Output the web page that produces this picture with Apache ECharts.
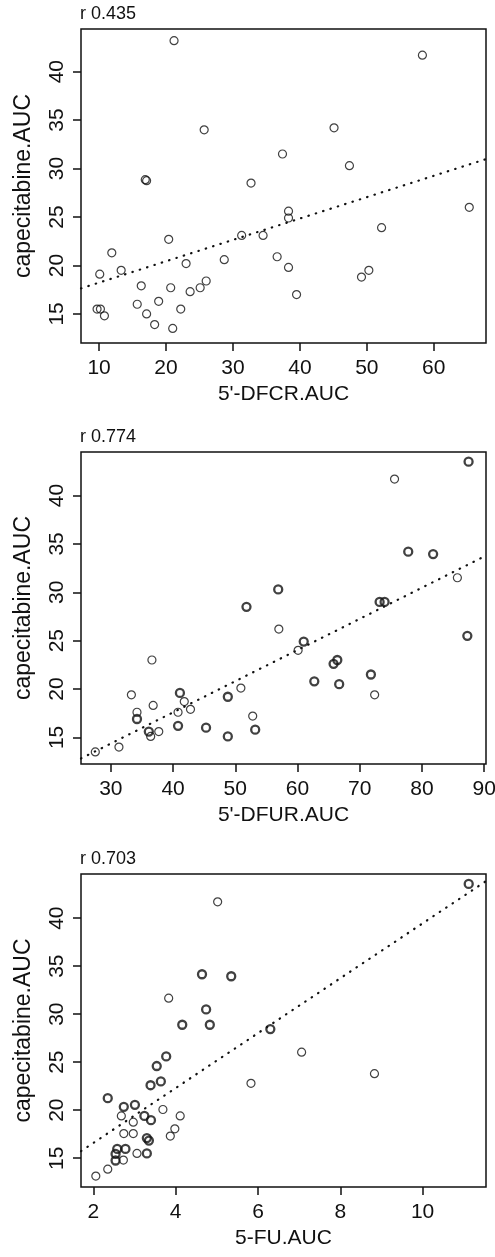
<!DOCTYPE html>
<html>
<head>
<meta charset="utf-8">
<script src="https://cdn.jsdelivr.net/npm/echarts@6/dist/echarts.min.js"></script>
<style>
html, body { margin: 0; padding: 0; background: #fff; }
#main { width: 495px; height: 1257px; }
</style>
</head>
<body>
<div id="main"></div>
<script>
// capecitabine AUC (y) against three metabolite AUCs (x), [x, y] pairs
var dfcrThin = [
    [21.2,43.2],[25.7,34.0],[16.9,28.85],[17.1,28.75],[32.7,28.5],[58.3,41.7],[45.1,34.2],[37.4,31.5],[47.4,30.3],
    [9.7,15.5],[10.2,15.5],[10.8,14.8],[10.1,19.1],[11.9,21.3],[13.3,19.5],[16.3,17.9],[15.7,16.0],[17.1,15.0],
    [18.3,13.9],[18.9,16.3],[20.4,22.7],[20.7,17.7],[21.0,13.5],[22.2,15.5],[23.0,20.2],[23.6,17.3],[25.1,17.7],
    [26.0,18.4],[28.7,20.6],[31.3,23.1],[34.5,23.1],[38.3,25.6],[38.3,24.9],[36.6,20.9],[38.3,19.8],[39.5,17.0],
    [52.2,23.9],[49.2,18.8],[50.3,19.5],[65.3,26.0]
];
var dfcrBold = [];

var dfurThin = [
    [75.6,41.7],[85.7,31.5],[27.5,13.5],[31.3,14.0],[33.3,19.4],[34.2,17.6],[36.6,23.0],[36.8,18.3],[36.4,15.1],
    [37.7,15.6],[40.8,17.6],[41.8,18.7],[42.8,17.9],[50.9,20.1],[57.0,26.2],[60.1,24.0],[72.4,19.4],[52.8,17.2]
];
var dfurBold = [
    [87.5,43.5],[77.8,34.2],[81.8,33.95],[56.9,30.3],[51.8,28.5],[73.2,29.0],[74.0,29.0],[34.2,16.9],[36.1,15.6],
    [41.1,19.6],[40.8,16.2],[45.3,16.0],[48.8,19.2],[48.8,15.1],[61.0,24.9],[65.8,22.6],[66.4,23.0],[62.7,20.8],
    [66.7,20.5],[71.8,21.5],[53.2,15.8],[87.3,25.5]
];

var fuThin = [
    [5.02,41.7],[3.83,31.67],[7.06,26.04],[5.83,22.8],[8.83,23.8],[3.69,20.07],[4.11,19.4],[2.68,19.4],[2.97,18.75],
    [3.98,18.06],[2.74,17.56],[2.97,17.56],[3.87,17.3],[3.06,15.5],[2.73,14.8],[2.35,13.86],[2.06,13.14]
];
var fuBold = [
    [4.64,34.16],[5.35,33.95],[4.74,30.5],[4.16,28.9],[4.83,28.9],[11.12,43.57],[6.30,28.45],[3.77,25.6],[3.54,24.6],
    [3.64,23.0],[3.39,22.6],[2.35,21.25],[2.74,20.35],[3.01,20.56],[3.24,19.4],[3.40,18.96],[3.30,17.1],[3.35,16.84],
    [2.58,15.97],[2.78,15.97],[2.54,15.45],[3.30,15.5],[2.54,14.76]
];

var rLabels = ['r 0.435', 'r 0.774', 'r 0.703'];
var xNames = ["5'-DFCR.AUC", "5'-DFUR.AUC", '5-FU.AUC'];
var yName = 'capecitabine.AUC';
var xTicks = [[10,20,30,40,50,60], [30,40,50,60,70,80,90], [2,4,6,8,10]];
var yTicks = [15,20,25,30,35,40];

var panels = [
    { thin: dfcrThin, bold: dfcrBold, xMin: 7.3, xMax: 67.8, yMin: 12.0, yMax: 44.4, top: 29, height: 314 },
    { thin: dfurThin, bold: dfurBold, xMin: 25.2, xMax: 90.3, yMin: 12.25, yMax: 44.5, top: 452, height: 312 },
    { thin: fuThin, bold: fuBold, xMin: 1.7, xMax: 11.54, yMin: 12.0, yMax: 44.6, top: 874, height: 313 }
];

function fitLine(pts, x0, x1) {
    var n = pts.length, sx = 0, sy = 0, sxx = 0, sxy = 0;
    pts.forEach(function (p) { sx += p[0]; sy += p[1]; sxx += p[0] * p[0]; sxy += p[0] * p[1]; });
    var b = (n * sxy - sx * sy) / (n * sxx - sx * sx);
    var a = (sy - b * sx) / n;
    return [[x0, a + b * x0], [x1, a + b * x1]];
}

var ink = '#111';
var font = 'Liberation Sans, Arial, sans-serif';
var grids = [], xAxes = [], yAxes = [], series = [], titles = [];

panels.forEach(function (p, i) {
    grids.push({
        left: 81, top: p.top, width: 405, height: p.height,
        show: true, borderColor: ink, borderWidth: 1.5, backgroundColor: 'transparent',
        containLabel: false, outerBoundsMode: 'none'
    });
    titles.push({
        text: rLabels[i], left: 80, top: p.top - 24, padding: 0,
        textStyle: { fontSize: 18, fontWeight: 'normal', color: ink, fontFamily: font }
    });
    xAxes.push({
        gridIndex: i, type: 'value', min: p.xMin, max: p.xMax,
        name: xNames[i], nameLocation: 'middle', nameGap: 41,
        nameTextStyle: { fontSize: 21, color: ink, fontFamily: font },
        splitLine: { show: false },
        axisLine: { show: false, onZero: false },
        axisTick: { show: true, length: 8, customValues: xTicks[i], lineStyle: { color: ink, width: 1.5 } },
        axisLabel: { customValues: xTicks[i], fontSize: 21, color: ink, margin: 15, fontFamily: font }
    });
    yAxes.push({
        gridIndex: i, type: 'value', min: p.yMin, max: p.yMax,
        name: yName, nameLocation: 'middle', nameGap: 46,
        nameTextStyle: { fontSize: 23, color: ink, fontFamily: font },
        splitLine: { show: false },
        axisLine: { show: false, onZero: false },
        axisTick: { show: true, length: 8, customValues: yTicks, lineStyle: { color: ink, width: 1.5 } },
        axisLabel: { customValues: yTicks, rotate: 90, fontSize: 21, color: ink, margin: 13, fontFamily: font }
    });
    var circle = function (data, w) {
        return {
            type: 'scatter', xAxisIndex: i, yAxisIndex: i, data: data,
            symbol: 'circle', symbolSize: 8, silent: true,
            itemStyle: { color: 'rgba(0,0,0,0)', borderColor: ink, borderWidth: w }
        };
    };
    series.push(circle(p.thin, 1.2));
    series.push(circle(p.bold, 2.3));
    series.push({
        type: 'line', xAxisIndex: i, yAxisIndex: i, silent: true,
        data: fitLine(p.thin.concat(p.bold), p.xMin, p.xMax),
        showSymbol: false, clip: true,
        lineStyle: { color: ink, width: 2.2, type: [0.5, 7.2], cap: 'round' }
    });
});

var myChart = echarts.init(document.getElementById('main'), null, { renderer: 'canvas' });
myChart.setOption({
    animation: false,
    backgroundColor: '#fff',
    title: titles,
    grid: grids,
    xAxis: xAxes,
    yAxis: yAxes,
    series: series
});
</script>
</body>
</html>
